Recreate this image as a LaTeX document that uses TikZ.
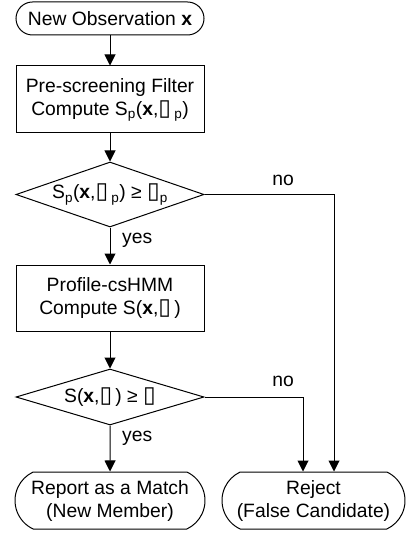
\documentclass[tikz,border=0pt]{standalone}
\usepackage{fontspec}
\setmainfont{Liberation Sans}
\newfontfamily\dv{DejaVu Sans}
\usetikzlibrary{shapes.geometric,shapes.misc,arrows.meta}
\newcommand\bx{{\dv\fontsize{23}{23}\selectfont\symbol{"25AF}}}
\begin{document}
\begin{tikzpicture}[x=1pt,y=-1pt,
  every node/.style={font=\fontsize{19.3}{23}\selectfont},
  ln/.style={line width=1pt},
  term/.style={rounded rectangle, draw, ln, inner sep=0pt, align=center},
  procbox/.style={rectangle, draw, ln, inner sep=0pt, align=center, minimum width=188pt},
  dec/.style={diamond, draw, ln, aspect=2.9, inner sep=0pt, minimum width=188pt},
  arr/.style={ln, -{Triangle[length=11pt,width=11pt]}},
  lbl/.style={inner sep=0pt}]
\useasboundingbox (0,0) rectangle (406,534);
\node[term, rounded rectangle arc length=180, minimum width=188pt, minimum height=33pt] (start) at (110,18.5) {New Observation \textbf{x}};
\node[procbox, minimum height=67pt] (pre) at (110,99.5) {Pre-screening Filter\\Compute S\textsubscript{p}(\textbf{x},\bx\,\textsubscript{p})};
\node[dec, minimum height=65pt] (d1) at (110,194.5) {S\textsubscript{p}(\textbf{x},\bx\,\textsubscript{p}) ≥ \bx\textsubscript{p}};
\node[procbox, minimum height=66pt] (prof) at (110,298) {Profile-csHMM\\Compute S(\textbf{x},\bx\,)};
\node[dec, minimum height=56pt] (d2) at (110,397) {S(\textbf{x},\bx\,) ≥ \bx};
\node[term, rounded rectangle arc length=130, minimum width=190pt, minimum height=57pt] (report) at (110,500.5) {Report as a Match\\(New Member)};
\node[term, rounded rectangle arc length=130, minimum width=183pt, minimum height=57pt] (reject) at (313.5,500.5) {Reject\\(False Candidate)};
\coordinate (c1) at (334,194.5);
\coordinate (c2) at (303,397);
\draw[arr] (start) -- (pre);
\draw[arr] (pre) -- (d1);
\draw[arr] (d1) -- (prof);
\draw[arr] (prof) -- (d2);
\draw[arr] (d2) -- (report);
\draw[arr] (d1.east) -- (c1) -- (c1 |- reject.north);
\draw[arr] (d2.east) -- (c2) -- (c2 |- reject.north);
\node[lbl, anchor=west] (y1) at (122,240) {yes};
\node[lbl, anchor=west] (y2) at (122,438) {yes};
\node[lbl] (n1) at (283,180) {no};
\node[lbl] (n2) at (283,381) {no};
\end{tikzpicture}
\end{document}
